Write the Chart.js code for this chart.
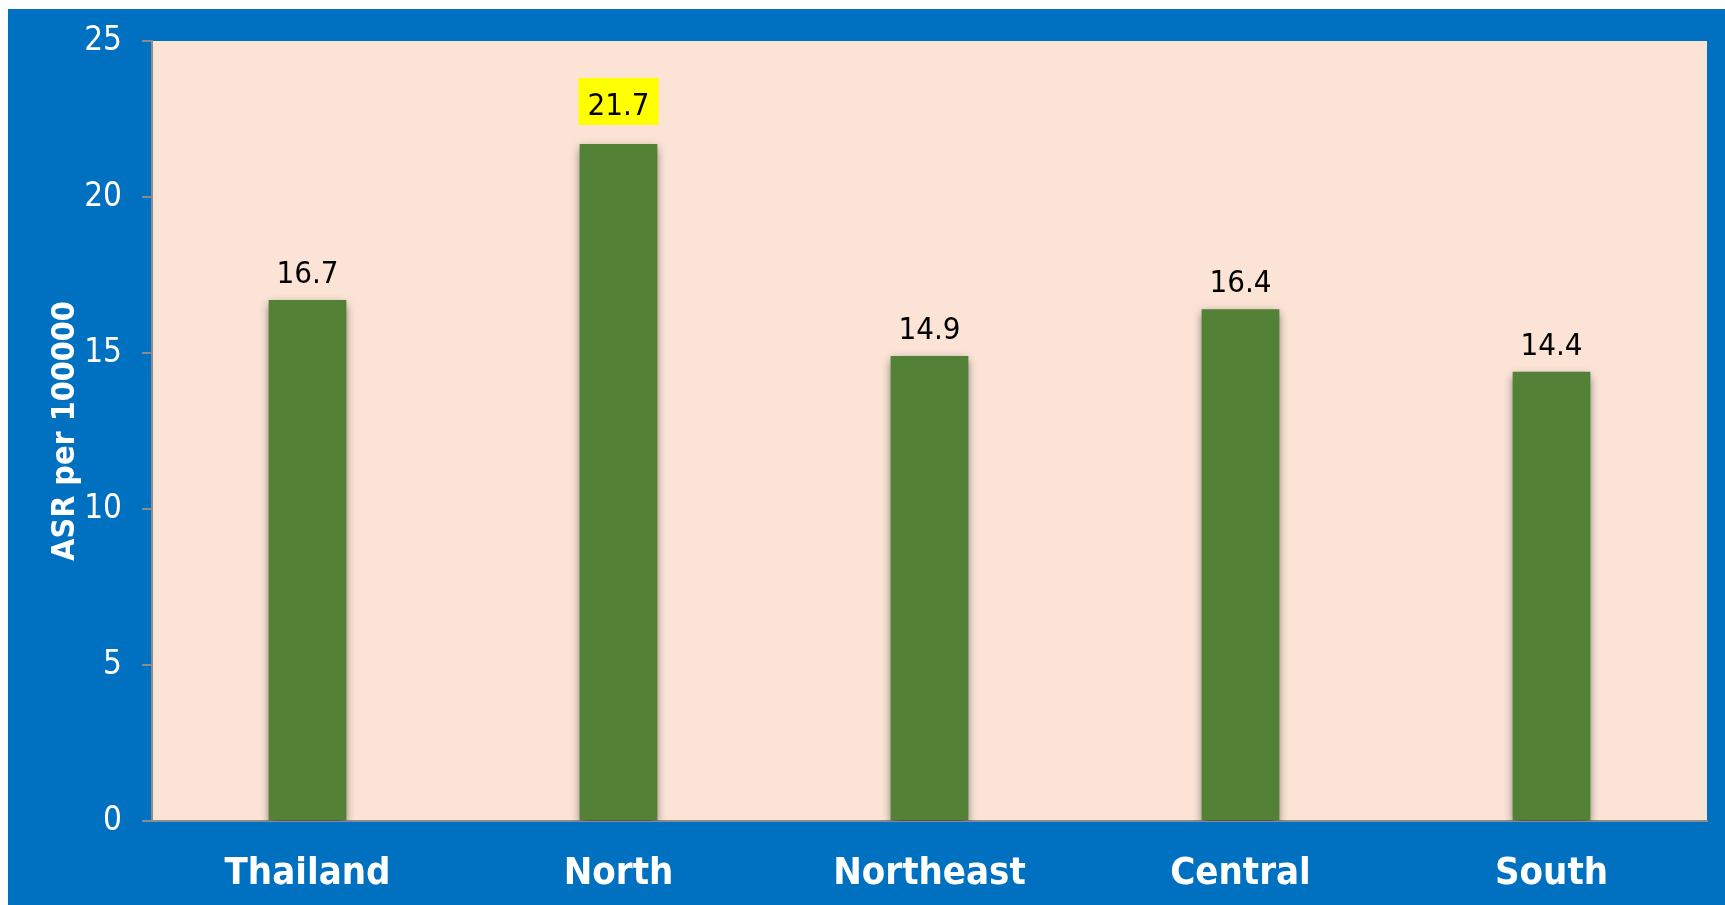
<!DOCTYPE html>
<html>
<head>
<meta charset="utf-8">
<script src="https://cdn.jsdelivr.net/npm/chart.js@4/dist/chart.umd.min.js"></script>
<style>
  html, body { margin: 0; padding: 0; background: #ffffff; }
  #frame {
    position: absolute;
    left: 8px;
    top: 9px;
    width: 1717px;
    height: 896px;
    background: #0070c0;
  }
</style>
</head>
<body>
<div id="frame"><canvas id="asr"></canvas></div>
<script>
const regions = ["Thailand", "North", "Northeast", "Central", "South"]
const asrValues = [16.7, 21.7, 14.9, 16.4, 14.4]
const highlighted = [false, true, false, false, false]
const yTicks = [0, 5, 10, 15, 20, 25]

const FONT = "'DejaVu Sans Condensed', 'DejaVu Sans', sans-serif"

// peach fill behind the plot only
const plotBackground = {
    id: "plotBackground",
    beforeDraw(chart) {
        const { ctx, chartArea } = chart
        ctx.save()
        ctx.fillStyle = "#fbe4d6"
        ctx.fillRect(chartArea.left, chartArea.top, chartArea.right - chartArea.left, chartArea.bottom - chartArea.top)
        ctx.restore()
    },
}

// soft drop shadow on the bars
const barShadow = {
    id: "barShadow",
    beforeDatasetDraw(chart) {
        const ctx = chart.ctx
        ctx.save()
        ctx.shadowColor = "rgba(0, 0, 0, 0.55)"
        ctx.shadowBlur = 9
        ctx.shadowOffsetX = 0
        ctx.shadowOffsetY = 4
    },
    afterDatasetDraw(chart) {
        chart.ctx.restore()
    },
}

// value labels above bars, yellow box for highlighted ones
const valueLabels = {
    id: "valueLabels",
    afterDatasetsDraw(chart) {
        const { ctx } = chart
        const meta = chart.getDatasetMeta(0)
        ctx.save()
        ctx.font = "31px " + FONT
        ctx.textAlign = "center"
        ctx.textBaseline = "alphabetic"
        meta.data.forEach((bar, i) => {
            const text = asrValues[i].toFixed(1)
            let baseY = bar.y - 17
            if (highlighted[i]) {
                baseY = bar.y - 29
                const w = ctx.measureText(text).width
                ctx.fillStyle = "#ffff00"
                ctx.fillRect(bar.x - w / 2 - 9, baseY - 37, w + 18, 47)
            }
            ctx.fillStyle = "#000000"
            ctx.fillText(text, bar.x, baseY)
        })
        ctx.restore()
    },
}

new Chart(document.getElementById("asr"), {
    type: "bar",
    data: {
        labels: regions,
        datasets: [
            {
                data: asrValues,
                backgroundColor: "#538135",
                borderWidth: 0,
                barPercentage: 0.25,
                categoryPercentage: 1,
            },
        ],
    },
    options: {
        responsive: true,
        maintainAspectRatio: false,
        animation: false,
        layout: {
            padding: { left: 0, top: 32, right: 18, bottom: 0 },
        },
        plugins: {
            legend: { display: false },
            tooltip: { enabled: false },
        },
        scales: {
            x: {
                grid: { display: false },
                border: { display: true, color: "#8c8c8c", width: 2 },
                ticks: {
                    color: "#ffffff",
                    padding: 22,
                    font: { family: FONT, size: 38, weight: "bold" },
                },
                afterFit(scale) {
                    scale.height = 84
                },
            },
            y: {
                min: 0,
                max: 25,
                afterBuildTicks(scale) {
                    scale.ticks = yTicks.map((v) => ({ value: v }))
                },
                grid: {
                    display: true,
                    drawOnChartArea: false,
                    drawTicks: true,
                    tickLength: 10,
                    color: "#8c8c8c",
                    lineWidth: 2,
                },
                border: { display: true, color: "#8c8c8c", width: 2 },
                ticks: {
                    color: "#ffffff",
                    padding: 20,
                    font: { family: FONT, size: 33 },
                },
                title: {
                    display: true,
                    text: "ASR per 100000",
                    color: "#ffffff",
                    padding: { top: 38, bottom: 0 },
                    font: { family: FONT, size: 32, weight: "bold" },
                },
                afterFit(scale) {
                    scale.width = 144
                    // labels at 0 and 25 may overhang the plot edges
                    scale.paddingTop = 0
                    scale.paddingBottom = 0
                },
            },
        },
    },
    plugins: [plotBackground, barShadow, valueLabels],
})
</script>
</body>
</html>
